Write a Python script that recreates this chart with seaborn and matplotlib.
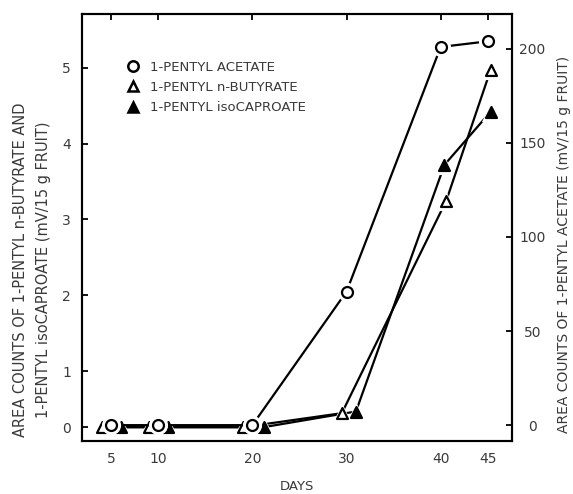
import numpy as np
import pandas as pd
import matplotlib
matplotlib.use("Agg")
import matplotlib.pyplot as plt
import seaborn as sns
from matplotlib.lines import Line2D

# ---- data ----
acetate_days = [5, 10, 20, 30, 40, 45]
acetate_vals = [0, 0, 0, 71, 201, 204]          # right axis (mV/15 g fruit)
butyrate_days = [4, 9, 19, 29.5, 40.6, 45.3]
butyrate_vals = [0, 0, 0, 0.25, 3.25, 4.97]     # left axis
isocap_days = [6, 11, 21.2, 31, 40.4, 45.3]
isocap_vals = [0, 0, 0, 0.28, 3.72, 4.42]       # left axis

left_ticks = [0, 1, 2, 3, 4, 5]
right_ticks = [0, 50, 100, 150, 200]
x_ticks = [5, 10, 20, 30, 40, 45]

legend_labels = ["1-PENTYL ACETATE", "1-PENTYL n-BUTYRATE", "1-PENTYL isoCAPROATE"]

sns.set_theme(style="white")
plt.rcParams['font.family'] = ['DejaVu Sans']
TXT = '#3a3a3a'

fig = plt.figure(figsize=(5.73, 4.94), dpi=100)
ax = fig.add_axes([0.143, 0.107, 0.894 - 0.143, 0.972 - 0.107])
ax2 = ax.twinx()

# left axis: the printed scale compresses the 0-1 segment
k = 0.737
def fwd(y):
    y = np.asarray(y, dtype=float)
    return np.where(y < 1, y * k, y - (1 - k))
def inv(y):
    y = np.asarray(y, dtype=float)
    return np.where(y < k, y / k, y + (1 - k))
ax.set_yscale('function', functions=(fwd, inv))

def draw(axis, xs, ys, marker, face):
    df = pd.DataFrame({"x": xs, "y": ys})
    sns.lineplot(data=df, x="x", y="y", ax=axis, color='black', lw=1.6,
                 estimator=None, sort=False, zorder=2)
    sns.scatterplot(data=df, x="x", y="y", ax=axis, marker=marker, s=190,
                    color='white', edgecolor='white', linewidth=0, zorder=3)
    sns.scatterplot(data=df, x="x", y="y", ax=axis, marker=marker, s=62,
                    facecolor=face, edgecolor='black', linewidth=1.6, zorder=4)

draw(ax, butyrate_days, butyrate_vals, '^', 'white')
draw(ax, isocap_days, isocap_vals, '^', 'black')
draw(ax2, acetate_days, acetate_vals, 'o', 'white')

ax.set_xlim(1.9, 47.6)
ax.set_ylim(-0.25, 5.71)
ax2.set_ylim(-8.5, 218.6)

ax.set_xticks(x_ticks)
ax.set_yticks(left_ticks)
ax2.set_yticks(right_ticks)
ax.set_xticklabels([str(t) for t in x_ticks])
ax.set_yticklabels([str(t) for t in left_ticks])
ax2.set_yticklabels([str(t) for t in right_ticks])

for a in (ax, ax2):
    for s in a.spines.values():
        s.set_color('black')
        s.set_linewidth(1.5)
ax.tick_params(axis='both', direction='in', length=4, width=1.3, colors='black',
               labelcolor=TXT, labelsize=10, top=True)
ax.tick_params(axis='y', pad=8)
ax.tick_params(axis='x', pad=8)
ax2.tick_params(axis='y', direction='in', length=4, width=1.3, colors='black',
                labelcolor=TXT, labelsize=10, pad=14.5)
for t in ax2.get_yticklabels():
    t.set_horizontalalignment('center')

ax.set_xlabel("DAYS", color=TXT, fontsize=9.5)
ax.xaxis.set_label_coords(0.5, -0.092)
ax.set_ylabel("AREA COUNTS OF 1-PENTYL n-BUTYRATE AND\n1-PENTYL isoCAPROATE (mV/15 g FRUIT)",
              color=TXT, fontsize=10.5, linespacing=1.7)
ax.yaxis.set_label_coords(-0.072, 0.40)
ax2.set_ylabel("AREA COUNTS OF 1-PENTYL ACETATE (mV/15 g FRUIT)", color=TXT,
               fontsize=10, rotation=90)
ax2.yaxis.set_label_coords(1.103, 0.46)

handles = [
    Line2D([], [], ls='none', marker='o', ms=7.5, mfc='white', mec='black', mew=1.8),
    Line2D([], [], ls='none', marker='^', ms=7.5, mfc='white', mec='black', mew=1.8),
    Line2D([], [], ls='none', marker='^', ms=7.5, mfc='black', mec='black', mew=1.8),
]
leg = ax.legend(handles, legend_labels, loc='upper left', bbox_to_anchor=(0.103, 0.89),
                frameon=False, fontsize=9.5, handlelength=1.0, handletextpad=0.8,
                labelspacing=0.55, borderaxespad=0, borderpad=0)
for t in leg.get_texts():
    t.set_color(TXT)

fig.savefig("out.png", dpi=100)
